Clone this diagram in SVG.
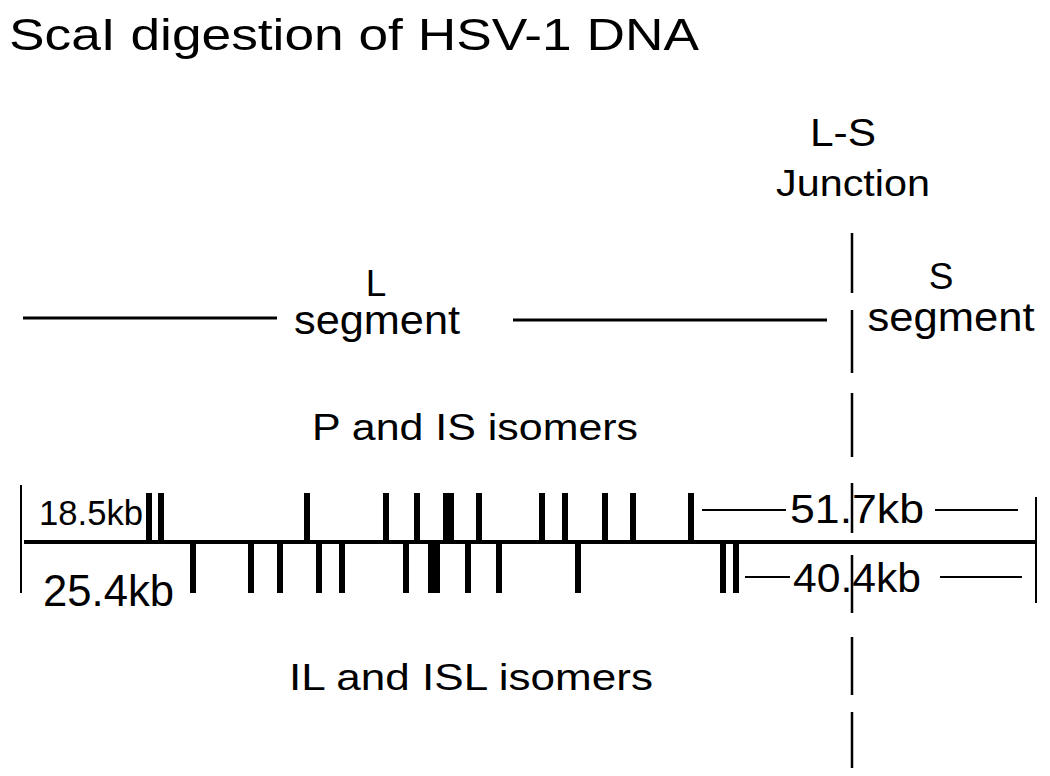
<svg xmlns="http://www.w3.org/2000/svg" width="1050" height="776" viewBox="0 0 1050 776">
<style>
text{font-family:"Liberation Sans",Arial,sans-serif;fill:#000}
.c{text-anchor:middle}
.thin{stroke:#000;stroke-width:2;fill:none}
.seg{stroke:#000;stroke-width:3;fill:none}
.tick{stroke:#000;stroke-width:6;fill:none}
.dash{stroke:#000;stroke-width:2.5;fill:none}
</style>
<rect width="1050" height="776" fill="#fff"/>
<g id="title"><text x="9" y="50" font-size="45" textLength="690" lengthAdjust="spacingAndGlyphs">ScaI digestion of HSV-1 DNA</text></g>
<g id="junction-label"><text class="c" x="843" y="146" font-size="38" textLength="66" lengthAdjust="spacingAndGlyphs">L-S</text><text class="c" x="853" y="196" font-size="37" textLength="154" lengthAdjust="spacingAndGlyphs">Junction</text></g>
<g id="L-segment"><text class="c" x="376" y="296" font-size="37">L</text><text class="c" x="377" y="334" font-size="40" textLength="166" lengthAdjust="spacingAndGlyphs">segment</text></g>
<g id="S-segment"><text class="c" x="941" y="289" font-size="37">S</text><text class="c" x="951" y="331" font-size="40" textLength="167" lengthAdjust="spacingAndGlyphs">segment</text></g>
<g id="p-is"><text class="c" x="475" y="440" font-size="37" textLength="326" lengthAdjust="spacingAndGlyphs">P and IS isomers</text></g>
<g id="il-isl"><text class="c" x="471" y="690" font-size="37" textLength="364" lengthAdjust="spacingAndGlyphs">IL and ISL isomers</text></g>
<g id="labels-kb">
<text x="39" y="525" font-size="35" textLength="104" lengthAdjust="spacingAndGlyphs">18.5kb</text>
<text x="43" y="606" font-size="44" textLength="131" lengthAdjust="spacingAndGlyphs">25.4kb</text>
<text x="790" y="523" font-size="40" textLength="134" lengthAdjust="spacingAndGlyphs">51.7kb</text>
<text x="793" y="592" font-size="40" textLength="128" lengthAdjust="spacingAndGlyphs">40.4kb</text>
</g>
<g id="connectors">
<line class="seg" x1="23" y1="318" x2="277" y2="318"/>
<line class="seg" x1="513" y1="320" x2="827" y2="320"/>
<path class="dash" d="M852 233V293M852 310V373M852 393V457M852 483V533M852 555V613M852 637V695M852 712V768"/>
<line x1="24" y1="542" x2="1036" y2="542" stroke="#000" stroke-width="4"/>
<line class="thin" x1="21" y1="485" x2="21" y2="593"/>
<line class="thin" x1="1036" y1="497" x2="1036" y2="603"/>
<line class="thin" x1="702" y1="510" x2="786" y2="510"/>
<line class="thin" x1="935" y1="510" x2="1018" y2="510"/>
<line class="thin" x1="745" y1="577" x2="790" y2="577"/>
<line class="thin" x1="940" y1="577" x2="1022" y2="577"/>
<path class="tick" d="M149 493V542M161 493V542M307 493V542M386 493V542M417 493V542M446 493V542M451 493V542M479 493V542M542 493V542M565 493V542M605 493V542M633 493V542M691 493V542"/>
<path class="tick" d="M193 542V593M251 542V593M280 542V593M319 542V593M342 542V593M406 542V593M431 542V593M437 542V593M468 542V593M499 542V593M578 542V593M723 542V593M736 542V593"/>
</g>
</svg>
